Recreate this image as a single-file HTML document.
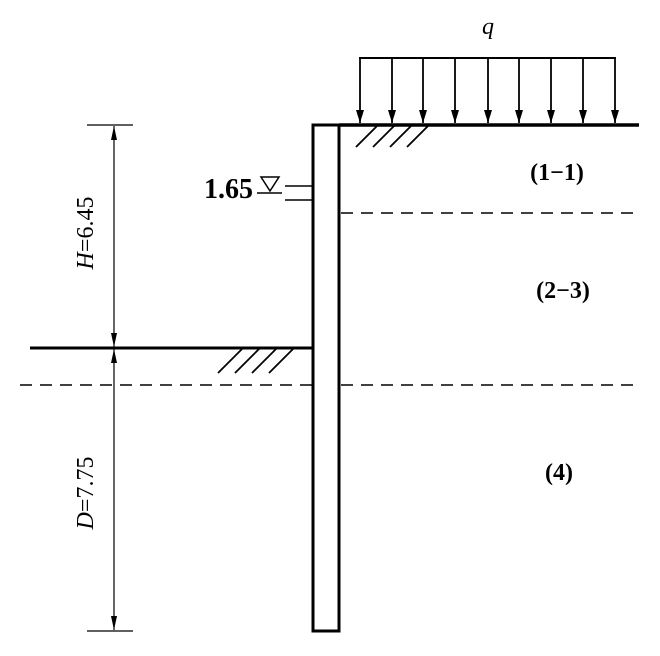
<!DOCTYPE html><html><head><style>body{margin:0;background:#fff}</style></head><body>
<svg width="660" height="651" xmlns="http://www.w3.org/2000/svg" font-family="Liberation Serif, serif">
<defs><marker id="a" viewBox="0 0 10 10" preserveAspectRatio="none" refX="10" refY="5" markerWidth="14" markerHeight="6" orient="auto" markerUnits="userSpaceOnUse"><path d="M0,0L10,5L0,10z" fill="#000"/></marker>
<marker id="b" viewBox="0 0 10 10" preserveAspectRatio="none" refX="10" refY="5" markerWidth="13" markerHeight="8" orient="auto" markerUnits="userSpaceOnUse"><path d="M0,0L10,5L0,10z" fill="#000"/></marker></defs>
<g stroke="#000" fill="none">
<rect x="313" y="125" width="26" height="506" stroke-width="3"/>
<line x1="339" y1="125" x2="639" y2="125" stroke-width="3.5"/>
<line x1="30" y1="348" x2="313" y2="348" stroke-width="3"/>
<line x1="359" y1="58" x2="616" y2="58" stroke-width="2"/>
<g stroke-width="1.8" marker-end="url(#b)">
<line x1="360" y1="58" x2="360" y2="123"/><line x1="392" y1="58" x2="392" y2="123"/><line x1="423" y1="58" x2="423" y2="123"/><line x1="455" y1="58" x2="455" y2="123"/><line x1="488" y1="58" x2="488" y2="123"/><line x1="519" y1="58" x2="519" y2="123"/><line x1="551" y1="58" x2="551" y2="123"/><line x1="583" y1="58" x2="583" y2="123"/><line x1="615" y1="58" x2="615" y2="123"/>
</g>
<g stroke-width="1.8">
<line x1="356" y1="147" x2="378" y2="125"/><line x1="373" y1="147" x2="395" y2="125"/><line x1="390" y1="147" x2="412" y2="125"/><line x1="407" y1="147" x2="429" y2="125"/>
<line x1="218" y1="373" x2="243" y2="348"/><line x1="235" y1="373" x2="260" y2="348"/><line x1="252" y1="373" x2="277" y2="348"/><line x1="269" y1="373" x2="294" y2="348"/>
</g>
<g stroke-width="1.5" stroke-dasharray="12,8">
<line x1="341" y1="213" x2="636" y2="213"/>
<line x1="20" y1="385" x2="313" y2="385"/>
<line x1="341" y1="385" x2="636" y2="385"/>
</g>
<line x1="87" y1="125" x2="133" y2="125" stroke-width="1.2"/>
<line x1="87" y1="348" x2="133" y2="348" stroke-width="1.2"/>
<line x1="87" y1="631" x2="133" y2="631" stroke-width="1.2"/>
<g stroke-width="1.2" marker-end="url(#a)">
<line x1="114" y1="236" x2="114" y2="126"/><line x1="114" y1="236" x2="114" y2="347"/>
<line x1="114" y1="490" x2="114" y2="349"/><line x1="114" y1="490" x2="114" y2="630"/>
</g>
<line x1="285" y1="186" x2="313" y2="186" stroke-width="1.5"/>
<line x1="285" y1="200" x2="313" y2="200" stroke-width="1.5"/>
<path d="M261,177H279L270,191Z" stroke-width="1.5"/>
<line x1="257" y1="193" x2="282" y2="193" stroke-width="1.5"/>
</g>
<g font-size="24" fill="#000" font-weight="bold">
<text x="253" y="198" text-anchor="end" font-size="28">1.65</text>
<text x="488" y="34" font-style="italic" text-anchor="middle" font-weight="normal">q</text>
<text x="557" y="180" text-anchor="middle">(1−1)</text>
<text x="563" y="298" text-anchor="middle">(2−3)</text>
<text x="559" y="480" text-anchor="middle">(4)</text>
</g>
<g font-size="24" fill="#000">
<text transform="translate(93,233) rotate(-90)" text-anchor="middle"><tspan font-style="italic">H</tspan>=6.45</text>
<text transform="translate(93,493) rotate(-90)" text-anchor="middle"><tspan font-style="italic">D</tspan>=7.75</text>
</g>
</svg></body></html>
